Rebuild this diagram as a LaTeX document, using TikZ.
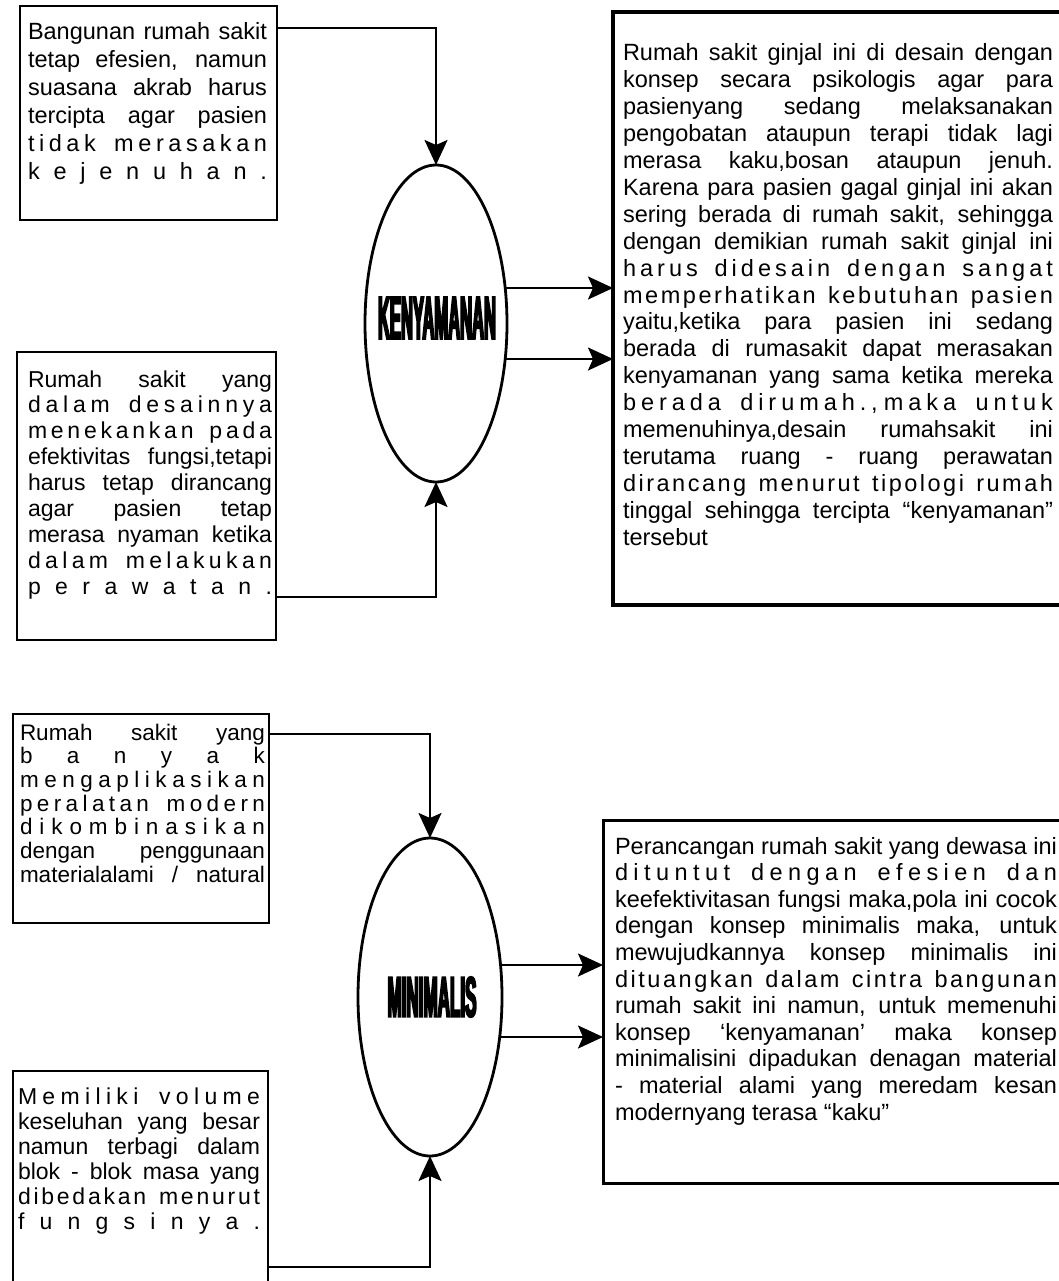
\documentclass[tikz,border=0pt]{standalone}
\usepackage{graphicx}
\usepackage{fontspec}
\setmainfont{Liberation Sans}
\newfontfamily\headfont{Liberation Sans}[FakeStretch=0.3,FakeBold=3]
\usetikzlibrary{shapes.geometric,arrows.meta}

% width of the current text block
\newlength\bw
% justified line: word gaps stretch
\newcommand\jl[1]{\hbox to \bw{\spaceskip=0.22em plus 1fil minus 0.14em\xspaceskip=\spaceskip #1}}
% letter-spread line: letters given with spaces, words split by \wg
\newcommand\spl[1]{\hbox to \bw{\spaceskip=0pt plus 1fil\xspaceskip=\spaceskip #1}}
\newcommand\wg{\hskip 0.2em plus 2fil\relax}
% closing line of a paragraph, set flush left
\newcommand\lastline[1]{\hbox to \bw{#1\hfil}}
% a block of lines: width, font size, line pitch, lines
\newcommand\block[4]{\vtop{\setlength\bw{#1}\fontsize{#2}{#3}\selectfont
  \lineskiplimit=-\maxdimen\lineskip=0pt\relax #4}}
% heavy condensed heading squeezed to a given size
\newcommand\heading[3]{\resizebox{#1pt}{#2pt}{\headfont\bfseries\fontsize{58}{60}\selectfont #3}}

\begin{document}
\begin{tikzpicture}[x=1pt,y=-1pt,
  panel/.style={draw, line width=2.6pt, inner sep=0pt, outer sep=0pt, anchor=north west},
  oval/.style={draw, ellipse, line width=2.8pt, inner sep=0pt, outer sep=0pt},
  conn/.style={line width=2.3pt, -{Stealth[length=25pt,width=23pt,inset=5pt]}},
  body/.style={anchor=base west, inner sep=0pt, outer sep=0pt},
  title/.style={inner sep=0pt, outer sep=0pt}]
\useasboundingbox (0,0) rectangle (1059,1281);
\clip (0,0) rectangle (1059,1281);

% ---------- upper group: KENYAMANAN ----------
\node[panel, minimum width=257pt, minimum height=214pt] (ba) at (20,6) {};
\node[panel, minimum width=259pt, minimum height=288pt] (bb) at (17,352) {};
\node[panel, line width=3.4pt, minimum width=470pt, minimum height=593pt] (bc) at (613,12) {};

\node[oval, minimum width=142pt, minimum height=317pt] (k) at (436,323.5) {};
\node[title] (kl) at (437,318) {\heading{118}{42}{KENYAMANAN}};

\node[body] (ta) at (28,40) {\block{239pt}{23.5}{28}{%
  \jl{Bangunan rumah sakit}
  \jl{tetap efesien, namun}
  \jl{suasana akrab harus}
  \jl{tercipta agar pasien}
  \spl{t i d a k \wg m e r a s a k a n}
  \spl{k e j e n u h a n .}}};

\node[body] (tb) at (28,387) {\block{244pt}{23}{25.9}{%
  \jl{Rumah sakit yang}
  \spl{d a l a m \wg d e s a i n n y a}
  \spl{m e n e k a n k a n \wg p a d a}
  \jl{efektivitas fungsi,tetapi}
  \jl{harus tetap dirancang}
  \jl{agar pasien tetap}
  \jl{merasa nyaman ketika}
  \spl{d a l a m \wg m e l a k u k a n}
  \spl{p e r a w a t a n .}}};

\node[body] (tc) at (623,61) {\block{430pt}{23.5}{26.9}{%
  \jl{Rumah sakit ginjal ini di desain dengan}
  \jl{konsep secara psikologis agar para}
  \jl{pasienyang sedang melaksanakan}
  \jl{pengobatan ataupun terapi tidak lagi}
  \jl{merasa kaku,bosan ataupun jenuh.}
  \jl{Karena para pasien gagal ginjal ini akan}
  \jl{sering berada di rumah sakit, sehingga}
  \jl{dengan demikian rumah sakit ginjal ini}
  \spl{h a r u s \wg d i d e s a i n \wg d e n g a n \wg s a n g a t}
  \spl{m e m p e r h a t i k a n \wg k e b u t u h a n \wg p a s i e n}
  \jl{yaitu,ketika para pasien ini sedang}
  \jl{berada di rumasakit dapat merasakan}
  \jl{kenyamanan yang sama ketika mereka}
  \spl{b e r a d a \wg d i r u m a h . , m a k a \wg u n t u k}
  \jl{memenuhinya,desain rumahsakit ini}
  \jl{terutama ruang - ruang perawatan}
  \spl{d i r a n c a n g \wg m e n u r u t \wg t i p o l o g i \wg r u m a h}
  \jl{tinggal sehingga tercipta “kenyamanan”}
  \lastline{tersebut}}};

\coordinate (ya) at (0,28);
\coordinate (yb) at (0,597);
\coordinate (yk1) at (0,288);
\coordinate (yk2) at (0,359);
\draw[conn] (ba.east |- ya) -| (k.north);
\draw[conn] (bb.east |- yb) -| (k.south);
\draw[conn, shorten <=-2pt] (k.east |- yk1) -- (bc.west |- yk1);
\draw[conn, shorten <=-2pt] (k.east |- yk2) -- (bc.west |- yk2);

% ---------- lower group: MINIMALIS ----------
\node[panel, minimum width=256pt, minimum height=209pt] (bd) at (13,714) {};
\node[panel, line width=3pt, minimum width=480pt, minimum height=363pt] (be) at (603,820) {};
\node[panel, minimum width=255pt, minimum height=240pt] (bf) at (13,1071) {};

\node[oval, minimum width=144pt, minimum height=318pt] (m) at (430,997) {};
\node[title] (ml) at (432,997) {\heading{89}{40}{MINIMALIS}};

\node[body] (td) at (20,740) {\block{245pt}{22.5}{23.7}{%
  \jl{Rumah sakit yang}
  \spl{b a n y a k}
  \spl{m e n g a p l i k a s i k a n}
  \spl{p e r a l a t a n \wg m o d e r n}
  \spl{d i k o m b i n a s i k a n}
  \jl{dengan penggunaan}
  \jl{materialalami / natural}}};

\node[body] (te) at (615,854) {\block{442pt}{23.5}{26.6}{%
  \jl{Perancangan rumah sakit yang dewasa ini}
  \spl{d i t u n t u t \wg d e n g a n \wg e f e s i e n \wg d a n}
  \jl{keefektivitasan fungsi maka,pola ini cocok}
  \jl{dengan konsep minimalis maka, untuk}
  \jl{mewujudkannya konsep minimalis ini}
  \spl{d i t u a n g k a n \wg d a l a m \wg c i n t r a \wg b a n g u n a n}
  \jl{rumah sakit ini namun, untuk memenuhi}
  \jl{konsep ‘kenyamanan’ maka konsep}
  \jl{minimalisini dipadukan denagan material}
  \jl{- material alami yang meredam kesan}
  \lastline{modernyang terasa “kaku”}}};

\node[body] (tf) at (18,1104) {\block{242pt}{23}{25}{%
  \spl{M e m i l i k i \wg v o l u m e}
  \jl{keseluhan yang besar}
  \jl{namun terbagi dalam}
  \jl{blok - blok masa yang}
  \spl{d i b e d a k a n \wg m e n u r u t}
  \spl{f u n g s i n y a .}}};

\coordinate (yd) at (0,734);
\coordinate (yf) at (0,1267);
\coordinate (ym1) at (0,965);
\coordinate (ym2) at (0,1037);
\draw[conn] (bd.east |- yd) -| (m.north);
\draw[conn] (bf.east |- yf) -| (m.south);
\draw[conn, shorten <=-2pt] (m.east |- ym1) -- (be.west |- ym1);
\draw[conn, shorten <=-2pt] (m.east |- ym2) -- (be.west |- ym2);
\end{tikzpicture}
\end{document}
